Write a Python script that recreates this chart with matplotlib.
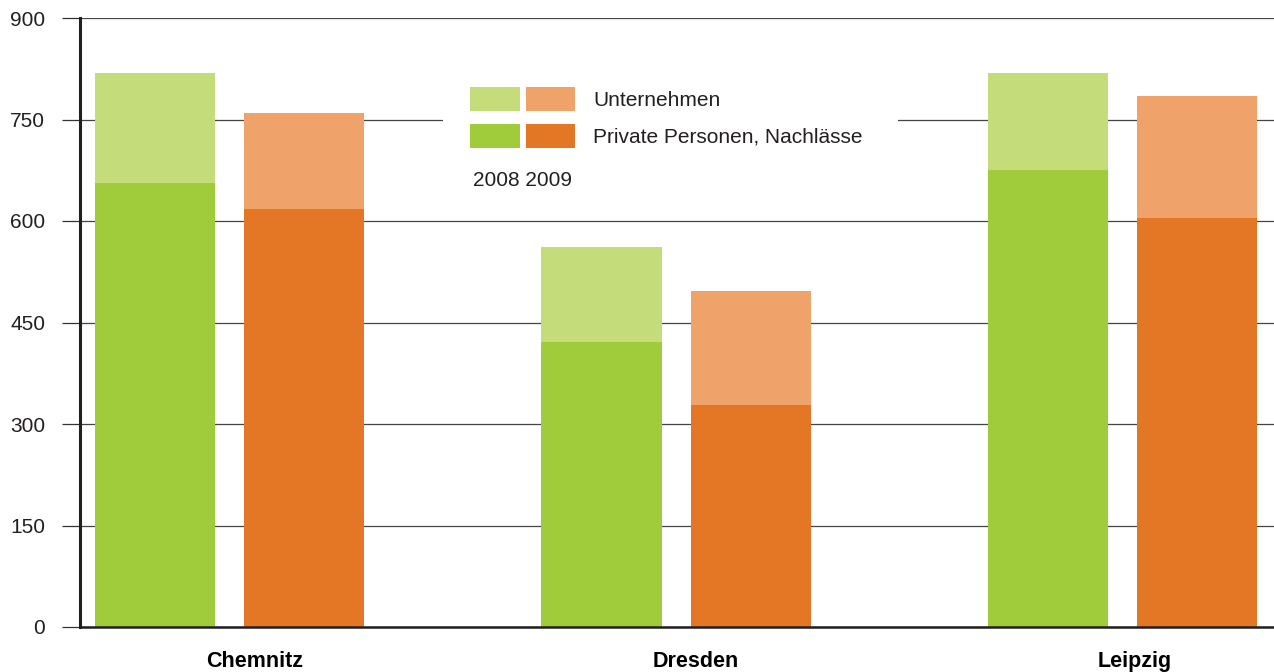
import numpy as np
import matplotlib.pyplot as plt
from matplotlib.patches import Rectangle

plt.rcParams['font.family'] = ['Liberation Sans', 'DejaVu Sans']

cities = ['Chemnitz', 'Dresden', 'Leipzig']
# Private Personen, Nachlässe
private_2008 = [656, 421, 675]
private_2009 = [618, 328, 604]
# Unternehmen (stacked on top)
firms_2008 = [163, 141, 144]
firms_2009 = [142, 168, 181]

c_light_green = '#c5dc7b'
c_green = '#a0cb3b'
c_light_orange = '#efa36b'
c_orange = '#e47726'

fig = plt.figure(figsize=(12.74, 6.72), dpi=100)
ax = fig.add_axes([80/1274, 45/672, 1 - 80/1274, 609/672])

x = np.arange(len(cities))
w = 0.269
off = 0.167

ax.bar(x - off, private_2008, w, color=c_green, zorder=2)
ax.bar(x - off, firms_2008, w, bottom=private_2008, color=c_light_green, zorder=2)
ax.bar(x + off, private_2009, w, color=c_orange, zorder=2)
ax.bar(x + off, firms_2009, w, bottom=private_2009, color=c_light_orange, zorder=2)

ax.set_xlim(-0.335, 2.339)
ax.set_ylim(0, 900)
ax.set_yticks(np.arange(0, 901, 150))
ax.yaxis.grid(True, color='#444444', lw=0.9, zorder=0)
ax.set_axisbelow(True)

# category labels are not exactly centred under the groups in the original
ax.set_xticks(x + np.array([0.057, 0.045, 0.028]))
ax.set_xticklabels(cities, fontweight='bold', fontsize=15.5)
ax.tick_params(axis='x', length=0, pad=17)
ax.tick_params(axis='y', direction='out', length=13, width=0.9, color='#333333',
               labelsize=15, pad=12, labelcolor='#231f20')

for s in ['top', 'right']:
    ax.spines[s].set_visible(False)
ax.spines['left'].set_linewidth(2.2)
ax.spines['left'].set_color('#231f20')
ax.spines['bottom'].set_linewidth(1.8)
ax.spines['bottom'].set_color('#231f20')
ax.spines['left'].set_zorder(3)
ax.spines['bottom'].set_zorder(3)

# legend drawn by hand (pixel layout of the original)
def fig_rect(x0, y0, x1, y1, color, z=5):
    r = Rectangle((x0/1274, 1 - y1/672), (x1 - x0)/1274, (y1 - y0)/672,
                  transform=fig.transFigure, color=color, zorder=z, lw=0)
    fig.add_artist(r)

fig_rect(443, 78, 898, 195, 'white', z=4)
fig_rect(470, 87, 520, 111, c_light_green)
fig_rect(526, 87, 575, 111, c_light_orange)
fig_rect(470, 124, 520, 148, c_green)
fig_rect(526, 124, 575, 148, c_orange)
fig.text(593/1274, 1 - 100/672, 'Unternehmen', fontsize=15, va='center',
         color='#231f20', zorder=6)
fig.text(593/1274, 1 - 137/672, 'Private Personen, Nachlässe', fontsize=15,
         va='center', color='#231f20', zorder=6)
fig.text(473/1274, 1 - 181/672, '2008 2009', fontsize=15, va='center',
         color='#231f20', zorder=6)

fig.savefig('out.png', dpi=100)
